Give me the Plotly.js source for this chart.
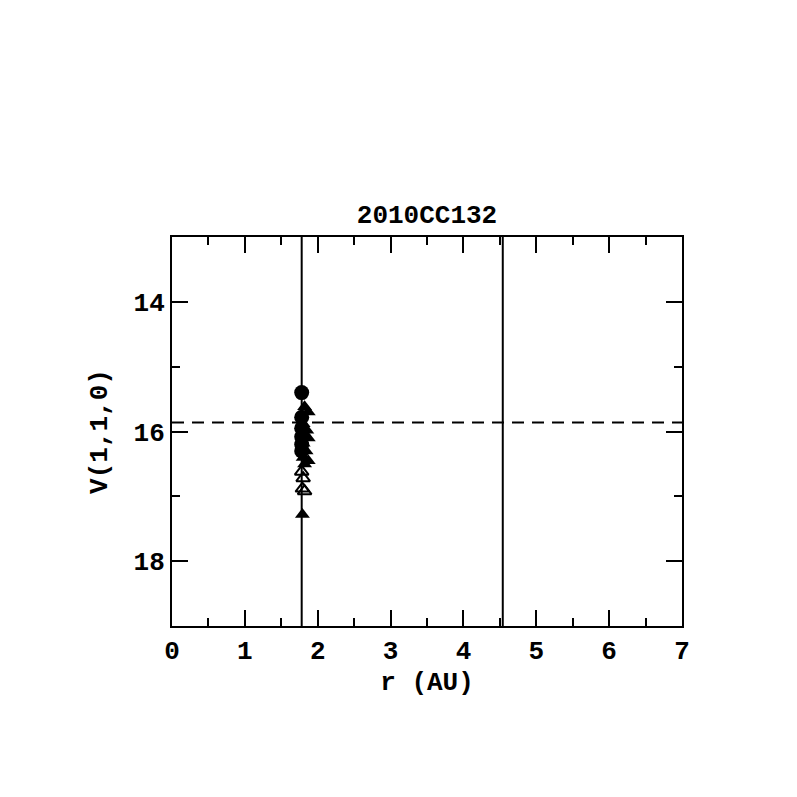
<!DOCTYPE html>
<html>
<head>
<meta charset="utf-8">
<script src="https://cdn.plot.ly/plotly-3.0.1.min.js"></script>
<style>html,body{margin:0;padding:0;background:#fff;}</style>
</head>
<body>
<div id="chart" style="width:797px;height:797px;"></div>
<script>
var chartTitle = "2010CC132";
var xLabel = "r (AU)";
var yLabel = "V(1,1,0)";

var circR = [1.78, 1.78, 1.78, 1.78, 1.78, 1.78];
var circV = [15.40, 15.78, 15.95, 16.08, 16.20, 16.30];

var triFillR = [1.82, 1.87, 1.80, 1.85, 1.87, 1.80, 1.84, 1.87, 1.82, 1.80, 1.79];
var triFillV = [15.62, 15.70, 15.88, 15.98, 16.10, 16.18, 16.30, 16.45, 16.50, 16.40, 17.28];

var triOpenR = [1.78, 1.80, 1.79, 1.82];
var triOpenV = [16.62, 16.72, 16.88, 16.92];

var vLines = [1.78, 4.54];
var hLine = 15.86;

var xRange = [0, 7];
var yRange = [19, 13];

var traces = [];
vLines.forEach(function (v) {
  traces.push({x: [v, v], y: [yRange[0], yRange[1]], mode: 'lines',
    line: {color: '#000', width: 2}, hoverinfo: 'skip', showlegend: false});
});
traces.push({x: [xRange[0], xRange[1]], y: [hLine, hLine], mode: 'lines',
  line: {color: '#000', width: 2, dash: '12px,8px'}, hoverinfo: 'skip', showlegend: false});
traces.push({x: triOpenR, y: triOpenV, mode: 'markers', showlegend: false,
  marker: {symbol: 'triangle-up-open', size: 12, color: '#000', line: {width: 2, color: '#000'}}});
traces.push({x: triFillR, y: triFillV, mode: 'markers', showlegend: false,
  marker: {symbol: 'triangle-up', size: 13, color: '#000', line: {width: 0}}});
traces.push({x: circR, y: circV, mode: 'markers', showlegend: false,
  marker: {symbol: 'circle', size: 15, color: '#000', line: {width: 0}}});

var fontFam = 'Liberation Mono, monospace';
var f = {family: fontFam, size: 26, color: '#000', weight: 'bold'};
var layout = {
  width: 797, height: 797,
  paper_bgcolor: '#fff', plot_bgcolor: '#fff',
  margin: {l: 172, r: 115, t: 237, b: 171},
  title: {text: chartTitle, font: f,
    x: 0.5, xanchor: 'center', xref: 'paper', y: 1, yref: 'paper', yanchor: 'bottom', pad: {b: 14}},
  xaxis: {range: xRange, showgrid: false, zeroline: false, showline: true, linewidth: 2, linecolor: '#000',
    mirror: 'allticks', ticks: 'inside', ticklen: 16, tickwidth: 2, tickcolor: '#000', dtick: 1, tick0: 0,
    minor: {dtick: 0.5, ticklen: 8, tickwidth: 2, tickcolor: '#000', ticks: 'inside', showgrid: false},
    tickfont: f,
    title: {text: xLabel, font: f, standoff: 6}},
  yaxis: {range: yRange, showgrid: false, zeroline: false, showline: true, linewidth: 2, linecolor: '#000',
    mirror: 'allticks', ticks: 'inside', ticklen: 16, tickwidth: 2, tickcolor: '#000', dtick: 2, tick0: 14,
    minor: {dtick: 1, ticklen: 8, tickwidth: 2, tickcolor: '#000', ticks: 'inside', showgrid: false},
    tickfont: f,
    title: {text: yLabel, font: f, standoff: 18}}
};
Plotly.newPlot('chart', traces, layout, {displayModeBar: false, staticPlot: true});
</script>
</body>
</html>
